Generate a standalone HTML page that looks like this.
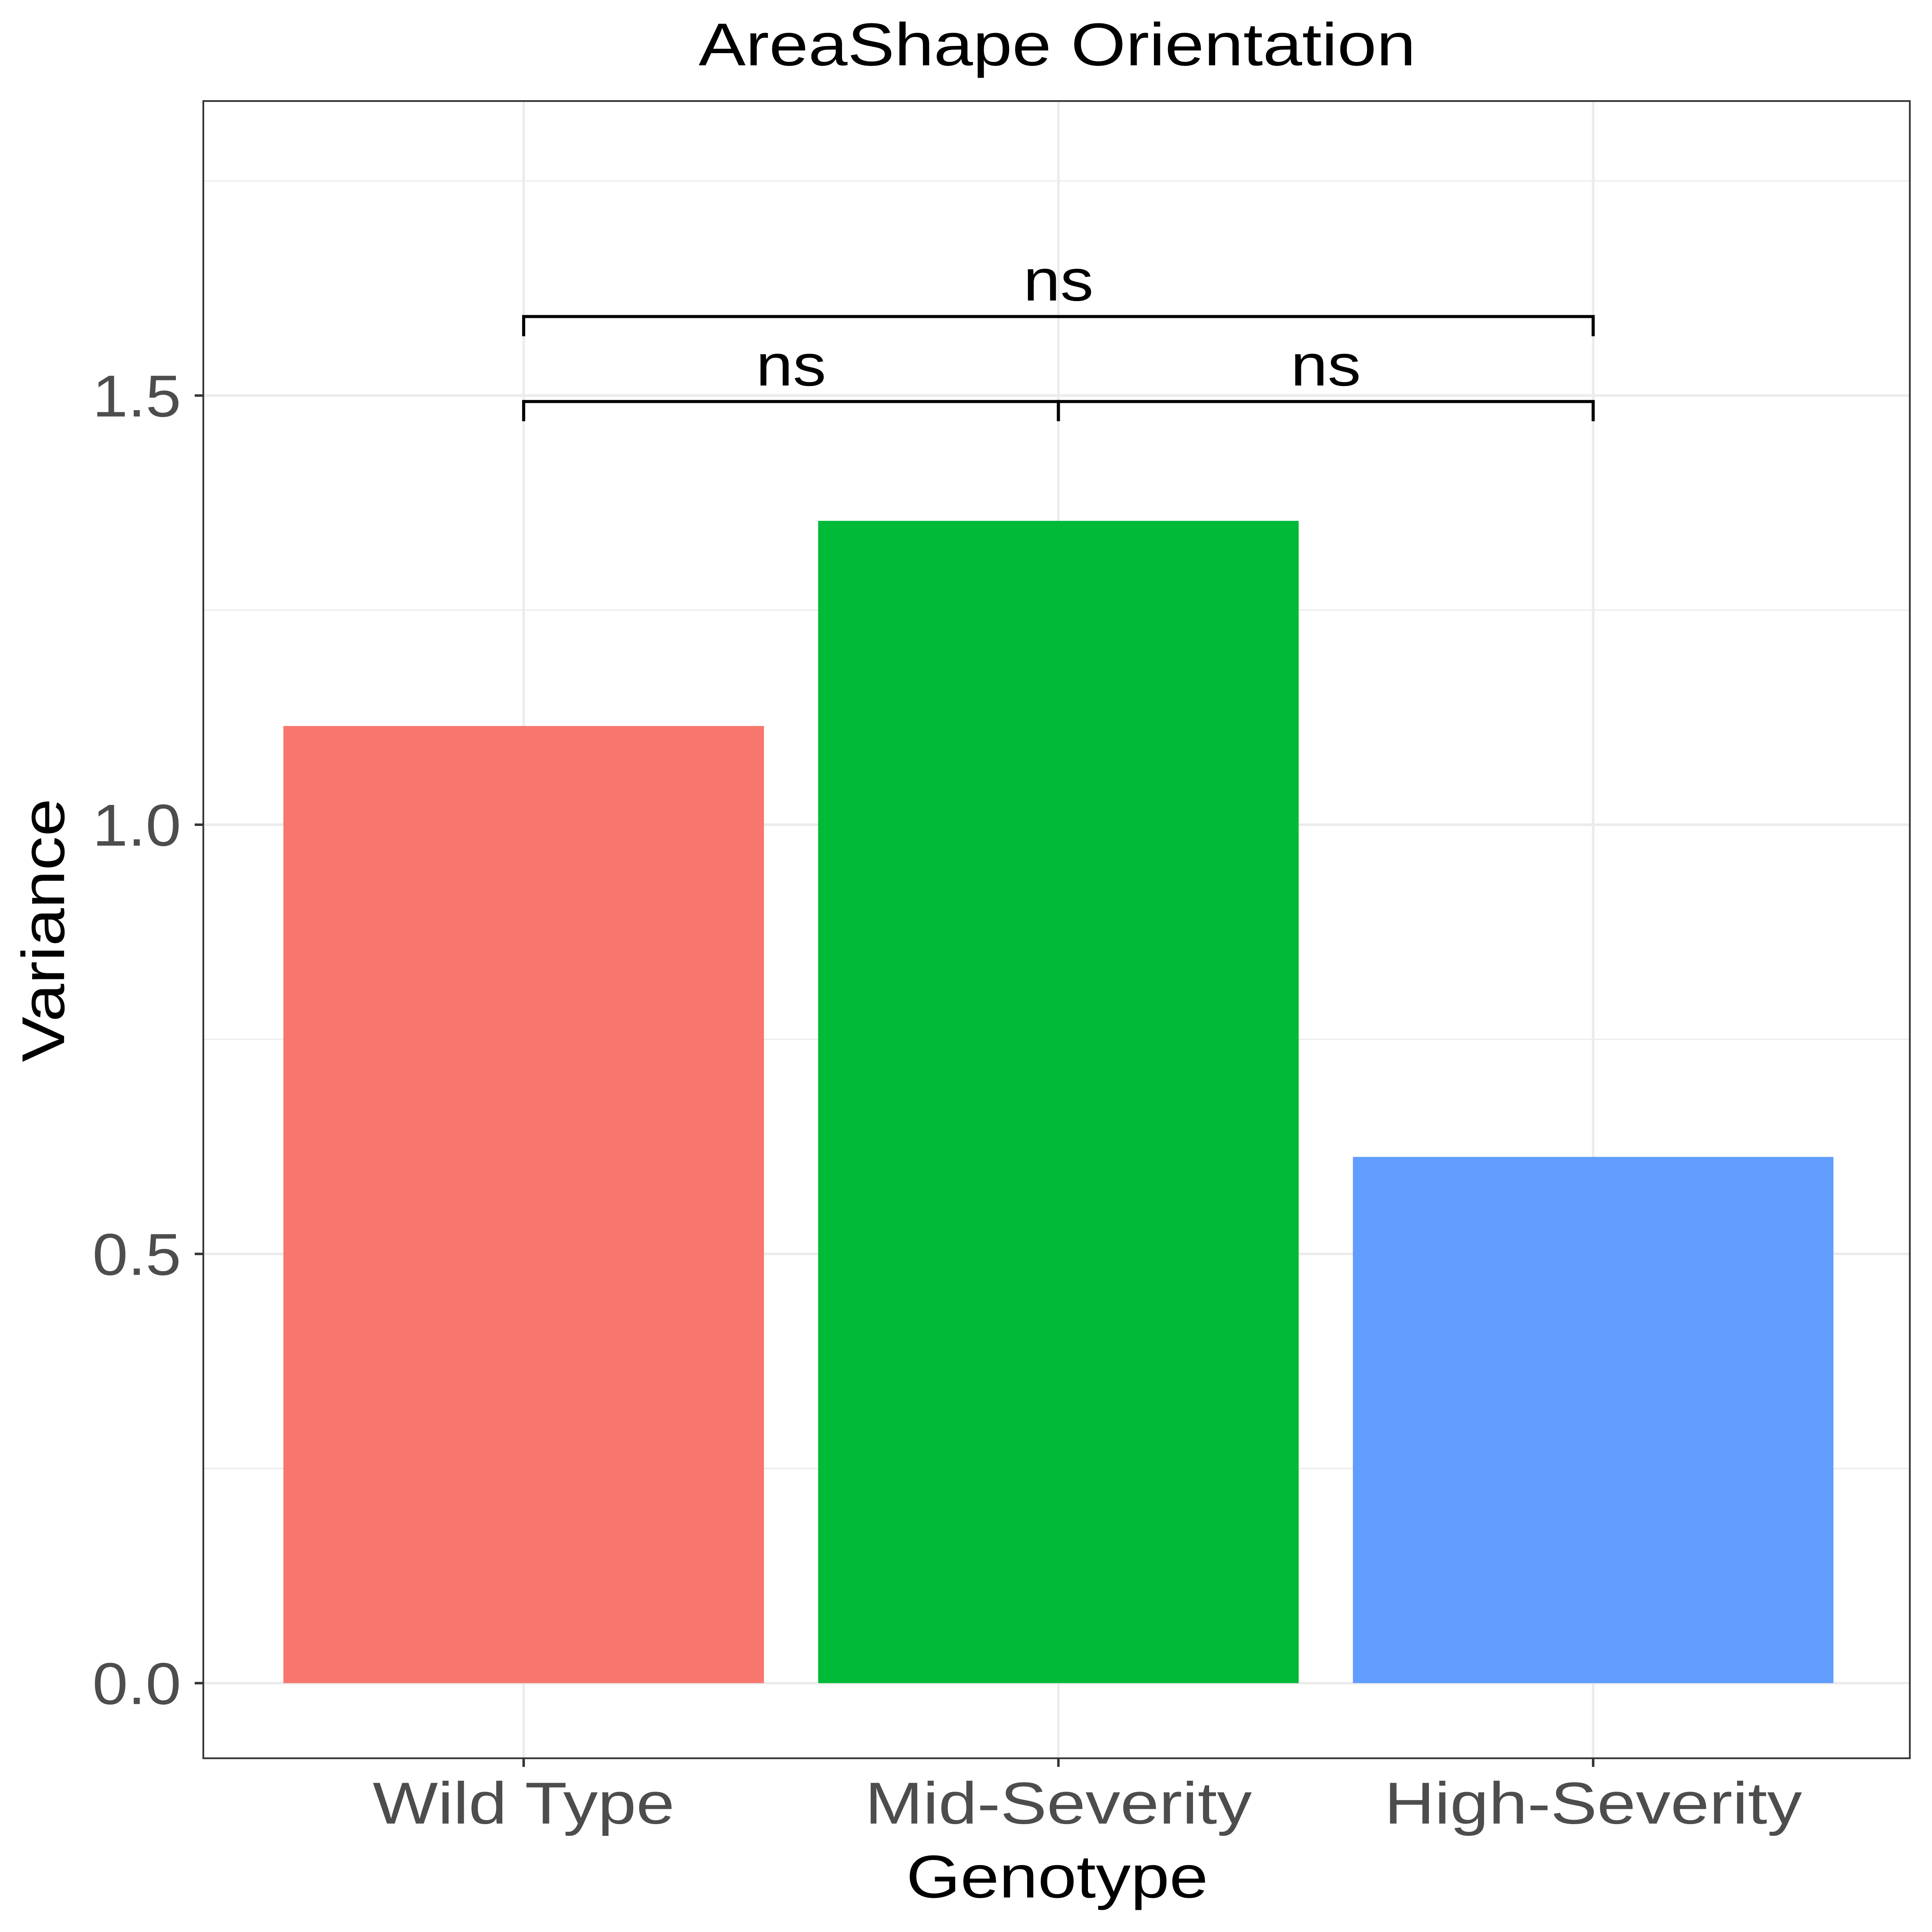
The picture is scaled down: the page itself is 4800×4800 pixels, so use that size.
<!DOCTYPE html>
<html><head><meta charset="utf-8"><style>
html,body{margin:0;padding:0;background:#fff;}
svg{display:block;}
text{font-family:"Liberation Sans",sans-serif;}
</style></head><body>
<svg id="chart" width="4800" height="4800" viewBox="0 0 1568 1568" xmlns="http://www.w3.org/2000/svg">
<rect width="1568" height="1568" fill="#fff"/>
<text x="858" y="53" text-anchor="middle" font-size="49" fill="#000" textLength="582" lengthAdjust="spacingAndGlyphs">AreaShape Orientation</text>
<g id="grid"></g>
<g id="bars"></g>
<g id="sig"></g>
<rect x="165" y="82" width="1385" height="1345" fill="none" stroke="#333" stroke-width="1.4"/>
<g id="axes"></g>
<text x="858" y="1540" text-anchor="middle" font-size="49" fill="#000" textLength="245" lengthAdjust="spacingAndGlyphs">Genotype</text>
<text transform="translate(52,755) rotate(-90)" text-anchor="middle" font-size="49" fill="#000" textLength="214" lengthAdjust="spacingAndGlyphs">Variance</text>
</svg>
<script>
const categories = ["Wild Type", "Mid-Severity", "High-Severity"];
const values = [1.115, 1.354, 0.613];
const colors = ["#F8766D", "#00BA38", "#619CFF"];
const yTicks = [0, 0.5, 1.0, 1.5];
const yTickLabels = ["0.0", "0.5", "1.0", "1.5"];
const yMinor = [0.25, 0.75, 1.25, 1.75];
const comparisons = [[0, 1, 1.493], [1, 2, 1.493], [0, 2, 1.592]];
const compLabels = ["ns", "ns", "ns"];
const catLabelWidths = [245, 314, 339];

const NS = "http://www.w3.org/2000/svg";
const y = v => 1366 - v * (1366 - 321) / 1.5;
const x = i => 425 + i * 434;
const bw = 390;
function mk(tag, attrs, parent, txt) {
  const e = document.createElementNS(NS, tag);
  for (const k in attrs) e.setAttribute(k, attrs[k]);
  if (txt !== undefined) e.textContent = txt;
  document.getElementById(parent).appendChild(e);
  return e;
}
yMinor.forEach(v => {
  const l = mk("line", {x1: 165, x2: 1550, y1: y(v), y2: y(v), stroke: "#ebebeb", "stroke-width": 1}, "grid");
  
  
});
yTicks.forEach((v, i) => {
  const l = mk("line", {x1: 165, x2: 1550, y1: y(v), y2: y(v), stroke: "#ebebeb", "stroke-width": 2}, "grid");
  
  
  const t = mk("line", {x1: 158, x2: 165, y1: y(v), y2: y(v), stroke: "#333", "stroke-width": 2}, "axes");
  
  
  const tl = mk("text", {x: 147, y: y(v) + 17, "text-anchor": "end", "font-size": "48", fill: "#4d4d4d", textLength: 72, lengthAdjust: "spacingAndGlyphs"}, "axes", yTickLabels[i]);
  
  
});
categories.forEach((c, i) => {
  const g = mk("line", {x1: x(i), x2: x(i), y1: 82, y2: 1427, stroke: "#ebebeb", "stroke-width": 2}, "grid");
  
  
  const b = mk("rect", {x: x(i) - bw / 2, y: y(values[i]), width: bw, height: y(0) - y(values[i]), fill: colors[i]}, "bars");
  
  
  const t = mk("line", {x1: x(i), x2: x(i), y1: 1427, y2: 1434, stroke: "#333", "stroke-width": 2}, "axes");
  
  
  const tl = mk("text", {x: x(i), y: 1480, "text-anchor": "middle", "font-size": "48", fill: "#4d4d4d", textLength: catLabelWidths[i], lengthAdjust: "spacingAndGlyphs"}, "axes", c);
  
  
});
comparisons.forEach((cm, k) => {
  const [a, b, v] = cm;
  const yy = y(v);
  const p = mk("path", {d: `M${x(a)},${yy + 16}V${yy}H${x(b)}V${yy + 16}`, fill: "none", stroke: "#000", "stroke-width": 2.5}, "sig");
  
  
  const t = mk("text", {x: (x(a) + x(b)) / 2, y: yy - 13, "text-anchor": "middle", "font-size": "48", fill: "#000", textLength: 57, lengthAdjust: "spacingAndGlyphs"}, "sig", compLabels[k]);
  
  
});
</script>
</body></html>
